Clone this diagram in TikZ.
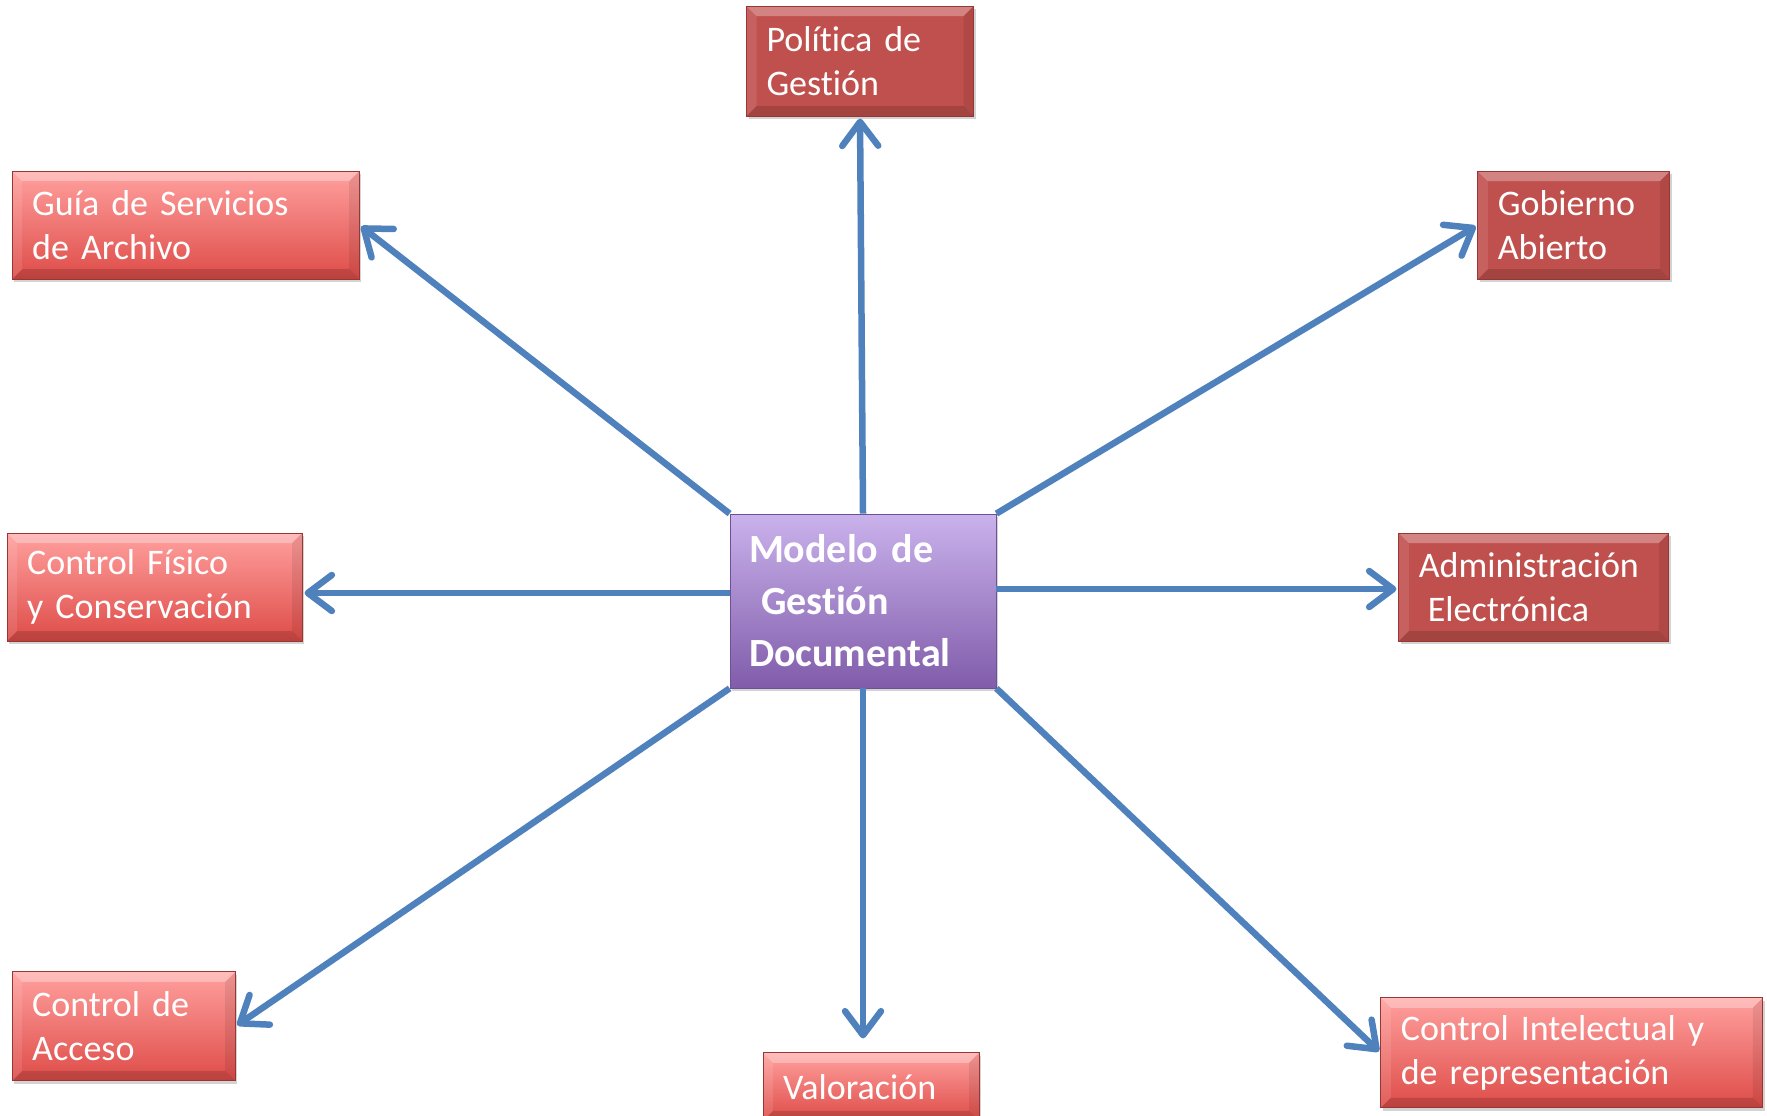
\documentclass[tikz,border=0pt]{standalone}
\usepackage{fontspec}
\setmainfont{Carlito}[Ligatures=NoCommon]
\usetikzlibrary{positioning,arrows.meta,shadows}

\definecolor{boxred}{RGB}{192,80,77}
\definecolor{boxlight}{RGB}{255,160,158}
\definecolor{boxlow}{RGB}{222,76,72}
\definecolor{boxedge}{RGB}{150,55,52}
\definecolor{lilatop}{RGB}{202,178,236}
\definecolor{lilabot}{RGB}{128,92,170}
\definecolor{lilaedge}{RGB}{110,80,150}
\definecolor{arrblue}{RGB}{79,129,189}

\tikzset{
  bevel/.style={path picture={
    \fill[white,opacity=0.3] (path picture bounding box.north west) -- (path picture bounding box.north east)
      -- ([xshift=-10pt,yshift=-10pt]path picture bounding box.north east) -- ([xshift=10pt,yshift=-10pt]path picture bounding box.north west) -- cycle;
    \fill[black,opacity=0.15] (path picture bounding box.south west) -- (path picture bounding box.south east)
      -- ([xshift=-10pt,yshift=10pt]path picture bounding box.south east) -- ([xshift=10pt,yshift=10pt]path picture bounding box.south west) -- cycle;
    \fill[black,opacity=0.08] (path picture bounding box.north east) -- (path picture bounding box.south east)
      -- ([xshift=-10pt,yshift=10pt]path picture bounding box.south east) -- ([xshift=-10pt,yshift=-10pt]path picture bounding box.north east) -- cycle;
    \fill[white,opacity=0.1] (path picture bounding box.north west) -- (path picture bounding box.south west)
      -- ([xshift=10pt,yshift=10pt]path picture bounding box.south west) -- ([xshift=10pt,yshift=-10pt]path picture bounding box.north west) -- cycle;
  }},
  redbox/.style={draw=boxedge,line width=0.8pt,text=white,inner xsep=20pt,align=left,
    font=\fontsize{36}{44}\selectfont,drop shadow={opacity=0.35,shadow xshift=2pt,shadow yshift=-3pt},bevel},
  darkbox/.style={redbox,fill=boxred},
  lightbox/.style={redbox,top color=boxlight,bottom color=boxlow},
  modelbox/.style={draw=lilaedge,line width=0.8pt,text=white,inner xsep=19pt,align=left,
    top color=lilatop,bottom color=lilabot,font=\bfseries\fontsize{40}{52}\selectfont,
    drop shadow={opacity=0.35,shadow xshift=2pt,shadow yshift=-3pt}},
  arr/.style={draw=arrblue,line width=6.5pt,-{Straight Barb[length=24pt,width=36pt,round]},shorten >=2pt}
}

\begin{document}
\begin{tikzpicture}[x=1pt,y=-1pt]
	\useasboundingbox (0,0) rectangle (1767,1116);
	
	\node[modelbox,text width=228pt,minimum height=174pt] (m) at (863,601) {Modelo de\\\hspace{0.3em}Gestión\\Documental};
	
	\node[darkbox,text width=187pt,minimum height=110pt,above=397pt of m,xshift=-3pt] (pol) {Política de\\Gestión};
	\node[lightbox,text width=307pt,minimum height=108pt,above left=234pt and 370pt of m] (gui) {Guía de Servicios\\de Archivo};
	\node[darkbox,text width=152pt,minimum height=108pt,above right=234pt and 481pt of m] (gob) {Gobierno\\Abierto};
	\node[lightbox,text width=255pt,minimum height=108pt,left=427pt of m,yshift=14pt] (fis) {Control Físico\\y Conservación};
	\node[darkbox,text width=230pt,minimum height=108pt,right=402pt of m,yshift=14pt] (adm) {Administración\\\hspace{0.25em}Electrónica};
	\node[lightbox,text width=183pt,minimum height=109pt,below left=283pt and 494pt of m] (acc) {Control de\\Acceso};
	\node[lightbox,text width=176pt,minimum height=68pt,below=364pt of m,xshift=8pt] (val) {Valoración};
	\node[lightbox,text width=342pt,minimum height=110pt,below right=309pt and 384pt of m] (int) {Control Intelectual y\\de representación};
	
	\draw[arr] (m.north) -- (pol.south);
	\draw[arr] (m.north west) -- (gui.east);
	\draw[arr] (m.north east) -- (gob.west);
	\draw[arr] ([yshift=-6pt]fis.east -| m.west) -- ([yshift=-6pt]fis.east);
	\draw[arr] ([yshift=-2pt]adm.west -| m.east) -- ([yshift=-2pt]adm.west);
	\draw[arr] (m.south west) -- (acc.east);
	\draw[arr,shorten >=14pt] (m.south) -- (m.south |- val.north);
	\draw[arr] (m.south east) -- (int.west);
\end{tikzpicture}
\end{document}
